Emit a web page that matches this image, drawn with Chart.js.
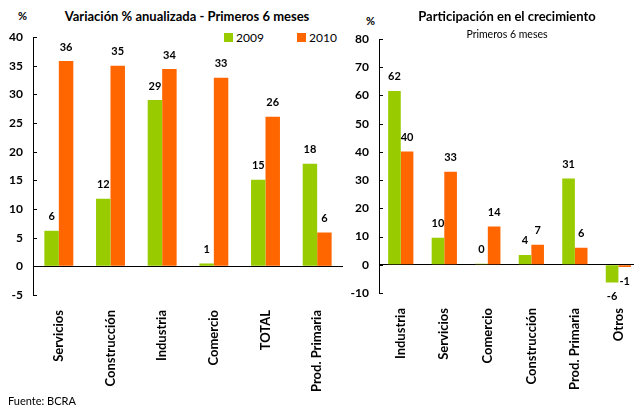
<!DOCTYPE html>
<html>
<head>
<meta charset="utf-8">
<script src="https://cdn.jsdelivr.net/npm/chart.js@4.4.0/dist/chart.umd.min.js"></script>
<style>
html, body { margin: 0; padding: 0; overflow: hidden; background: #fff; }
body { position: relative; width: 634px; height: 407px; font-family: Lato, sans-serif; color: #000; }
canvas { position: absolute; top: 0; }
#chartVar { left: 0; }
#chartPart { left: 340px; }
.txt { position: absolute; white-space: nowrap; line-height: 14px; }
.title { font-weight: bold; font-size: 13px; text-align: center; }
#legend { position: absolute; left: 224px; top: 31px; font-size: 12px; }
#legend span.item { position: absolute; top: 0; white-space: nowrap; line-height: 14px; }
#legend span.box { display: inline-block; width: 9px; height: 9px; margin-right: 3px; }
</style>
</head>
<body>
<div class="txt" style="left:18px;top:9px;font-weight:bold;font-size:11px">%</div>
<div class="txt title" style="left:37px;top:9px;width:300px">Variación % anualizada - Primeros 6 meses</div>
<div id="legend"></div>
<canvas id="chartVar" width="343" height="407"></canvas>

<div class="txt" style="left:366px;top:14px;font-weight:bold;font-size:11px">%</div>
<div class="txt title" style="left:407px;top:9px;width:200px">Participación en el crecimiento</div>
<div class="txt" style="left:407px;top:27px;width:200px;text-align:center;font-size:10.5px">Primeros 6 meses</div>
<canvas id="chartPart" width="301" height="407"></canvas>

<div class="txt" style="left:8px;top:394px;font-size:11px">Fuente: BCRA</div>

<script>
// variacion % anualizada, primeros 6 meses
var categoriasVar = ["Servicios", "Construcción", "Industria", "Comercio", "TOTAL", "Prod. Primaria"];
var var2009 = [6.2, 11.8, 29.0, 0.5, 15.1, 17.9];
var var2010 = [35.8, 35.0, 34.4, 32.9, 26.1, 5.9];

// participacion en el crecimiento
var categoriasPart = ["Industria", "Servicios", "Comercio", "Construcción", "Prod. Primaria", "Otros"];
var part2009 = [61.6, 9.6, 0.4, 3.5, 30.6, -6.3];
var part2010 = [40.1, 33.0, 13.6, 7.1, 6.0, -0.8];

var series = ["2009", "2010"];
var colores = ["#99CC00", "#FF6600"];

// legend (only on the first chart)
var legend = document.getElementById("legend");
series.forEach(function (s, i) {
    var item = document.createElement("span");
    item.className = "item";
    item.style.left = (i * 73) + "px";
    item.innerHTML = '<span class="box" style="background:' + colores[i] + '"></span>' + s;
    legend.appendChild(item);
});

// short tick marks pointing into the plot
var innerTicks = {
    id: "innerTicks",
    afterDraw: function (chart) {
        var y = chart.scales.y;
        var ctx = chart.ctx;
        var left = chart.chartArea.left;
        ctx.save();
        ctx.strokeStyle = "#000";
        ctx.lineWidth = 1;
        y.ticks.forEach(function (t) {
            var py = Math.round(y.getPixelForValue(t.value)) + 0.5;
            ctx.beginPath();
            ctx.moveTo(left, py);
            ctx.lineTo(left + 4, py);
            ctx.stroke();
        });
        ctx.restore();
    }
};

// value labels above / below each bar
var valueLabels = {
    id: "valueLabels",
    afterDatasetsDraw: function (chart) {
        var ctx = chart.ctx;
        ctx.save();
        ctx.font = "bold 11px Lato";
        ctx.fillStyle = "#000";
        ctx.textAlign = "center";
        ctx.textBaseline = "middle";
        chart.data.datasets.forEach(function (ds, i) {
            chart.getDatasetMeta(i).data.forEach(function (bar, j) {
                var v = ds.data[j];
                var ty = v >= 0 ? bar.y - 14 : bar.y + 14;
                ctx.fillText(String(Math.round(v)), bar.x, ty);
            });
        });
        ctx.restore();
    }
};

function barChart(id, labels, d1, d2, cfg) {
    var ctx = document.getElementById(id).getContext("2d");
    return new Chart(ctx, {
        type: "bar",
        data: {
            labels: labels,
            datasets: [
                { label: series[0], data: d1, backgroundColor: colores[0] },
                { label: series[1], data: d2, backgroundColor: colores[1] }
            ]
        },
        options: {
            responsive: false,
            animation: false,
            events: [],
            datasets: { bar: { barPercentage: 1, categoryPercentage: cfg.groupWidth } },
            layout: { padding: { top: cfg.top, left: 0, right: 0, bottom: 0 } },
            plugins: { legend: { display: false }, tooltip: { enabled: false } },
            scales: {
                x: {
                    grid: { display: false },
                    border: { display: false },
                    ticks: {
                        autoSkip: false, minRotation: 90, maxRotation: 90, padding: 7,
                        color: "#000", font: { family: "Lato", weight: "bold", size: 13 }
                    },
                    afterFit: function (s) { s.height = cfg.xHeight; }
                },
                y: {
                    min: cfg.min, max: cfg.max,
                    grid: {
                        drawTicks: false,
                        color: function (c) { return c.tick && c.tick.value === 0 ? "#000" : "rgba(0,0,0,0)"; }
                    },
                    border: { display: true, color: "#000" },
                    ticks: {
                        stepSize: cfg.step, padding: 10,
                        color: "#000", font: { family: "Lato", weight: "bold", size: 12 }
                    },
                    afterFit: function (s) { s.width = cfg.yWidth; }
                }
            }
        },
        plugins: [innerTicks, valueLabels]
    });
}

barChart("chartVar", categoriasVar, var2009, var2010,
    { min: -5, max: 40, step: 5, top: 37, xHeight: 112, yWidth: 33, groupWidth: 0.56 });
barChart("chartPart", categoriasPart, part2009, part2010,
    { min: -10, max: 80, step: 10, top: 39, xHeight: 114, yWidth: 39, groupWidth: 0.58 });
</script>
</body>
</html>
